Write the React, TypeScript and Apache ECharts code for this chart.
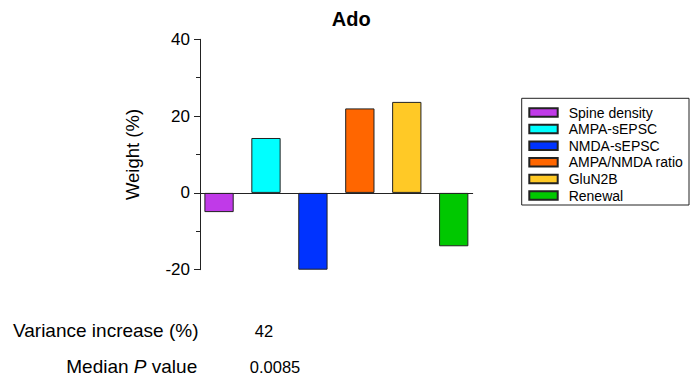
import React, { useEffect, useRef } from "react";
import * as echarts from "echarts";

const categories = [
  "Spine density",
  "AMPA-sEPSC",
  "NMDA-sEPSC",
  "AMPA/NMDA ratio",
  "GluN2B",
  "Renewal",
];
const weights = [-5, 14.3, -20, 22, 23.7, -13.9];
const colors = ["#C03AE8", "#00FFFF", "#0033FF", "#FF6600", "#FFC926", "#00C800"];
const yMin = -20;
const yMax = 40;
const yInterval = 20;
const titleText = "Ado";
const yName = "Weight (%)";
const statLabels = ["Variance increase (%)", "{a|Median }{i|P}{a| value}"];
const statValues = ["42", "0.0085"];

const FONT = '"Liberation Sans", Arial, Helvetica, sans-serif';
const AXIS_COLOR = "#222";

export default function App() {
  const ref = useRef<HTMLDivElement>(null);

  useEffect(() => {
    if (!ref.current) return;
    document.body.style.margin = "0";
    const chart = echarts.init(ref.current, undefined, { renderer: "svg" });

    const gridTop = 39.3;
    const gridHeight = 230.4;

    const series = categories.map((name, i) => ({
      type: "bar",
      name,
      xAxisIndex: 1,
      yAxisIndex: 1,
      barWidth: 29.3,
      barGap: "-100%",
      data: categories.map((_, j) => (j === i ? weights[i] : null)),
      itemStyle: { color: colors[i], borderColor: AXIS_COLOR, borderWidth: 1 },
    }));

    const option: any = {
      animation: false,
      backgroundColor: "#fff",
      textStyle: { fontFamily: FONT, color: "#000" },
      grid: [
        { left: 200, top: gridTop, width: 272.7, height: gridHeight },
        { left: 195.58, top: gridTop, width: 281.6, height: gridHeight },
      ],
      xAxis: [
        {
          type: "value",
          gridIndex: 0,
          min: 0,
          max: 1,
          axisLine: { show: true, onZero: true, lineStyle: { color: AXIS_COLOR, width: 1 } },
          axisTick: { show: false },
          axisLabel: { show: false },
          splitLine: { show: false },
        },
        {
          type: "category",
          gridIndex: 1,
          data: categories,
          show: false,
        },
      ],
      yAxis: [
        {
          type: "value",
          gridIndex: 0,
          min: yMin,
          max: yMax,
          interval: yInterval,
          name: yName,
          nameLocation: "middle",
          nameGap: 58,
          nameTextStyle: { fontSize: 18.5, color: "#000", fontFamily: FONT },
          axisLine: { show: true, lineStyle: { color: AXIS_COLOR, width: 1 } },
          axisTick: { show: true, length: 6, lineStyle: { color: AXIS_COLOR } },
          minorTick: { show: true, splitNumber: 2, length: 4, lineStyle: { color: AXIS_COLOR } },
          axisLabel: { fontSize: 17, color: "#000", margin: 10, fontFamily: FONT },
          splitLine: { show: false },
        },
        {
          type: "value",
          gridIndex: 1,
          min: yMin,
          max: yMax,
          show: false,
          splitLine: { show: false },
        },
      ],
      legend: {
        data: categories,
        orient: "vertical",
        left: 528.3,
        top: 105.5,
        padding: 0,
        itemWidth: 28.4,
        itemHeight: 8.5,
        itemGap: 2.6,
        icon: "rect",
        selectedMode: false,
        textStyle: {
          fontSize: 14,
          lineHeight: 13,
          color: "#000",
          fontFamily: FONT,
          padding: [0, 0, 0, 6],
        },
      },
      graphic: [
        {
          type: "rect",
          shape: { x: 521.7, y: 98.3, width: 167.3, height: 106.7 },
          style: { fill: "none", stroke: AXIS_COLOR, lineWidth: 1 },
          silent: true,
        },
        {
          type: "text",
          x: 351.3,
          y: 18.8,
          style: {
            text: titleText,
            fontSize: 20,
            fontWeight: "bold",
            fontFamily: FONT,
            fill: "#000",
            align: "center",
            verticalAlign: "middle",
          },
        },
        {
          type: "text",
          x: 198.5,
          y: 330.5,
          style: {
            text: statLabels[0],
            fontSize: 19,
            fontFamily: FONT,
            fill: "#000",
            align: "right",
            verticalAlign: "middle",
          },
        },
        {
          type: "text",
          x: 197.2,
          y: 366.7,
          style: {
            text: statLabels[1],
            fontSize: 19,
            fontFamily: FONT,
            fill: "#000",
            align: "right",
            verticalAlign: "middle",
            rich: {
              a: { fontSize: 19, fontFamily: FONT, fill: "#000" },
              i: { fontSize: 19, fontFamily: FONT, fontStyle: "italic", fill: "#000" },
            },
          },
        },
        {
          type: "text",
          x: 264,
          y: 330.5,
          style: {
            text: statValues[0],
            fontSize: 16.5,
            fontFamily: FONT,
            fill: "#000",
            align: "center",
            verticalAlign: "middle",
          },
        },
        {
          type: "text",
          x: 275,
          y: 366.7,
          style: {
            text: statValues[1],
            fontSize: 16.5,
            fontFamily: FONT,
            fill: "#000",
            align: "center",
            verticalAlign: "middle",
          },
        },
      ],
      series,
    };

    chart.setOption(option);
    return () => chart.dispose();
  }, []);

  return (
    <div
      ref={ref}
      style={{ position: "fixed", left: 0, top: 0, width: 691, height: 387, background: "#fff" }}
    />
  );
}
